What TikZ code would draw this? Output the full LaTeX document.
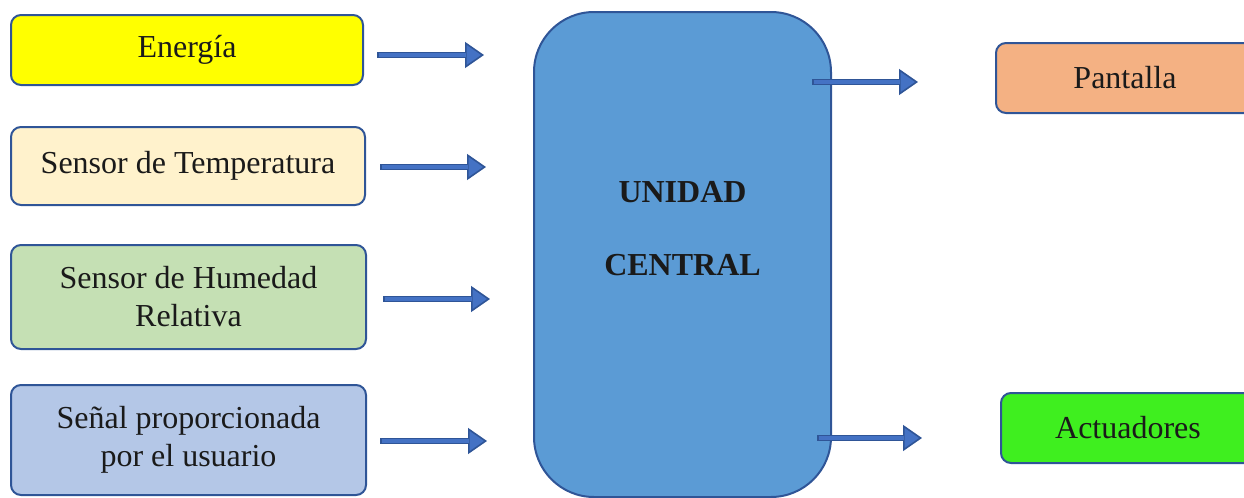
\documentclass[tikz,border=0pt]{standalone}
\usepackage{fontspec}
\setmainfont{Liberation Serif}
\usetikzlibrary{arrows.meta}

\definecolor{borde}{HTML}{2F5597}
\definecolor{texto}{HTML}{1A1A1A}
\definecolor{azulFlecha}{HTML}{4472C4}
\definecolor{amarillo}{HTML}{FFFF00}
\definecolor{crema}{HTML}{FFF2CC}
\definecolor{verdeClaro}{HTML}{C5E0B4}
\definecolor{azulClaro}{HTML}{B4C7E7}
\definecolor{azulCentral}{HTML}{5B9BD5}
\definecolor{salmon}{HTML}{F4B183}
\definecolor{verde}{HTML}{3FEF1F}

\tikzset{
  caja/.style={draw=borde, line width=1pt, rounded corners=5pt, align=center,
    text=texto, inner sep=0pt, font=\fontsize{16}{19}\selectfont},
  flecha/.style={draw=borde, line width=3.2pt,
    -{Triangle[length=9.5pt,width=13pt,line width=0.8pt,fill=azulFlecha]},
    postaction={draw=azulFlecha, line width=1.6pt, -, shorten >=9pt, shorten <=0.8pt}},
}

\begin{document}
\begin{tikzpicture}[x=0.5pt, y=-0.5pt]
	\useasboundingbox (0,0) rectangle (1244,498);
	
	% Entradas
	\node[caja, fill=amarillo, minimum width=176pt, minimum height=35pt] (energia) at (187,50) {Energía};
	\node[caja, fill=crema, minimum width=177pt, minimum height=39pt] (temperatura) at (188,166) {Sensor de Temperatura};
	\node[caja, fill=verdeClaro, minimum width=177.5pt, minimum height=52pt] (humedad) at (188.5,297) {Sensor de Humedad\\Relativa};
	\node[caja, fill=azulClaro, minimum width=177.5pt, minimum height=55pt] (senal) at (188.5,440) {Señal proporcionada\\por el usuario};
	
	% Unidad central
	\node[caja, fill=azulCentral, rounded corners=30pt, minimum width=148.5pt, minimum height=242.5pt,
		label={[align=center, text=texto, font=\fontsize{16}{19}\selectfont\bfseries, yshift=13pt]center:UNIDAD\\[17.5pt]CENTRAL}] (central) at (682.5,254.5) {};
	
	% Salidas
	\node[caja, fill=salmon, minimum width=129pt, minimum height=35pt] (pantalla) at (1125,78) {Pantalla};
	\node[caja, fill=verde, minimum width=127pt, minimum height=35pt] (actuadores) at (1128,428) {Actuadores};
	
	% Extremos de las flechas
	\coordinate (e1) at (377,55);  \coordinate (c1) at (484,55);
	\coordinate (e2) at (380,167); \coordinate (c2) at (486,167);
	\coordinate (e3) at (383,299); \coordinate (c3) at (490,299);
	\coordinate (e4) at (380,441); \coordinate (c4) at (487,441);
	\coordinate (s1) at (812,82);  \coordinate (p1) at (918,82);
	\coordinate (s2) at (817,438); \coordinate (a1) at (922,438);
	
	% Flechas
	\draw[flecha] (e1) -- (c1);
	\draw[flecha] (e2) -- (c2);
	\draw[flecha] (e3) -- (c3);
	\draw[flecha] (e4) -- (c4);
	\draw[flecha] (s1) -- (p1);
	\draw[flecha] (s2) -- (a1);
\end{tikzpicture}
\end{document}
